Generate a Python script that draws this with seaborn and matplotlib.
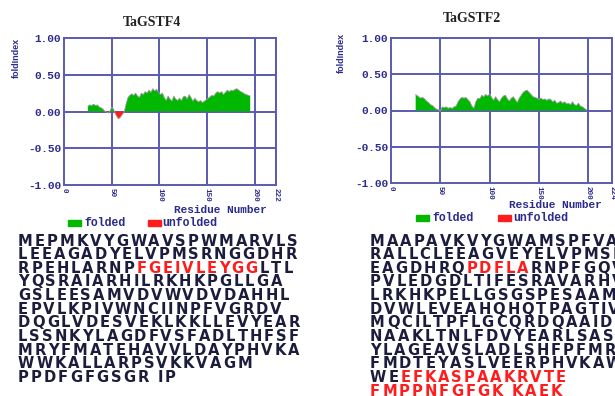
import numpy as np
import matplotlib
matplotlib.use("Agg")
import matplotlib.pyplot as plt
import seaborn as sns

# foldIndex profiles (residue, value)
f4_res = [25, 27, 29, 31, 33, 35, 37, 39, 41, 43, 45, 47, 49, 50, 52, 53, 55, 57, 59, 61, 63,
          65, 67, 69, 71, 73, 75, 77, 79, 81, 83, 85, 87, 89, 91, 93, 95, 97, 99, 101, 103,
          105, 107, 109, 111, 113, 115, 117, 119, 121, 123, 125, 127, 129, 131, 133, 135, 137,
          139, 141, 143, 145, 147, 149, 151, 153, 155, 157, 159, 161, 163, 165, 167, 169, 171,
          173, 175, 177, 179, 181, 183, 185, 187, 189, 191, 193, 195]
f4_val = [0.07, 0.09, 0.08, 0.10, 0.08, 0.09, 0.06, 0.05, 0.03, 0.00, -0.01, -0.02, 0.03, 0.06,
          0.03, -0.01, -0.06, -0.10, -0.08, -0.04, -0.01, 0.10, 0.19, 0.22, 0.24, 0.22, 0.25,
          0.21, 0.19, 0.25, 0.23, 0.27, 0.25, 0.29, 0.26, 0.31, 0.28, 0.30, 0.26, 0.23, 0.25,
          0.19, 0.15, 0.21, 0.17, 0.14, 0.21, 0.17, 0.15, 0.18, 0.15, 0.20, 0.21, 0.17, 0.23,
          0.19, 0.14, 0.18, 0.15, 0.13, 0.15, 0.12, 0.14, 0.16, 0.18, 0.20, 0.22, 0.21, 0.25,
          0.27, 0.25, 0.27, 0.23, 0.26, 0.29, 0.27, 0.29, 0.28, 0.30, 0.31, 0.29, 0.27, 0.26,
          0.24, 0.23, 0.22, 0.21]

f2_res = [25, 26, 28, 30, 32, 34, 36, 38, 40, 42, 44, 46, 48, 50, 51, 52, 54, 56, 58, 60, 62,
          64, 66, 68, 70, 72, 74, 76, 78, 80, 82, 84, 86, 88, 90, 92, 94, 96, 98, 100, 102,
          104, 106, 108, 110, 112, 114, 116, 118, 120, 122, 124, 126, 128, 130, 132, 134, 136,
          138, 140, 142, 144, 146, 148, 150, 152, 154, 156, 158, 160, 162, 164, 166, 168, 170,
          172, 174, 176, 178, 180, 182, 184, 186, 188, 190, 192, 194, 196, 198]
f2_val = [0.22, 0.21, 0.19, 0.17, 0.18, 0.16, 0.13, 0.11, 0.08, 0.07, 0.04, 0.02, 0.01, -0.01,
          0.02, 0.05, 0.04, 0.05, 0.03, 0.04, 0.03, 0.05, 0.06, 0.12, 0.16, 0.18, 0.17, 0.18,
          0.15, 0.12, 0.06, 0.03, 0.12, 0.17, 0.16, 0.21, 0.19, 0.22, 0.20, 0.23, 0.18, 0.14,
          0.19, 0.15, 0.12, 0.17, 0.20, 0.21, 0.16, 0.13, 0.17, 0.19, 0.15, 0.11, 0.17, 0.21,
          0.25, 0.27, 0.28, 0.25, 0.22, 0.19, 0.18, 0.17, 0.15, 0.17, 0.15, 0.16, 0.14, 0.16,
          0.15, 0.12, 0.14, 0.10, 0.11, 0.13, 0.10, 0.12, 0.09, 0.10, 0.08, 0.12, 0.08, 0.07,
          0.10, 0.06, 0.05, 0.03, 0.01]

titles = ["TaGSTF4", "TaGSTF2"]
seq_len = [222, 224]
y_ticks = [1.0, 0.5, 0.0, -0.5, -1.0]

# sequences: each line is a list of (text, highlighted)
seq_f4 = [
    [("MEPMKVYGWAVSPWMARVLS", False)],
    [("LEEAGADYELVPMSRNGGDHR", False)],
    [("RPEHLARNP", False), ("FGEIVLEYGG", True), ("LTL", False)],
    [("YQSRAIARHILRKHKPGLLGA", False)],
    [("GSLEESAMVDVWVDVDAHHL", False)],
    [("EPVLKPIVWNCIINPFVGRDV", False)],
    [("DQGLVDESVEKLKKLLEVYEAR", False)],
    [("LSSNKYLAGDFVSFADLTHFSF", False)],
    [("MRYFMATEHAVVLDAYPHVKA", False)],
    [("WWKALLARPSVKKVAGM", False)],
    [("PPDFGFGSGR IP", False)],
]
seq_f2 = [
    [("MAAPAVKVYGWAMSPFVA", False)],
    [("RALLCLEEAGVEYELVPMSR", False)],
    [("EAGDHRQ", False), ("PDFLA", True), ("RNPFGQV", False)],
    [("PVLEDGDLTIFESRAVARHV", False)],
    [("LRKHKPELLGSGSPESAAMV", False)],
    [("DVWLEVEAHQHQTPAGTIV", False)],
    [("MQCILTPFLGCQRDQAAIDE", False)],
    [("NAAKLTNLFDVYEARLSASK", False)],
    [("YLAGEAVSLADLSHFPFMRY", False)],
    [("FMDTEYASLVEERPHVKAW", False)],
    [("WE", False), ("EFKASPAAKRVTE", True)],
    [("FMPPNFGFGK KAEK", True)],
]

navy = "#2c2c8c"
grid_c = "#5a5ab0"
green = "#00b800"
red = "#ff1c1c"
W, H = 615, 396

sns.set_style("white")
fig = plt.figure(figsize=(6.15, 3.96), dpi=100)
mono = "Liberation Mono"


def px(x, y):
    return x / W, 1 - y / H


panels = [
    dict(rect=(64, 38, 276, 185), res=f4_res, val=f4_val, title_xy=(152, 22), ylab_xy=(16, 58),
         rn_xy=(267, 210), leg_y=223, leg=[68, 84, 148, 162]),
    dict(rect=(391, 38, 612, 183), res=f2_res, val=f2_val, title_xy=(472, 19), ylab_xy=(341, 53),
         rn_xy=(602, 205), leg_y=218, leg=[416, 432, 498, 513]),
]

for i, p in enumerate(panels):
    x0, y0, x1, y1 = p["rect"]
    ax = fig.add_axes([x0 / W, 1 - y1 / H, (x1 - x0) / W, (y1 - y0) / H])
    res = np.array(p["res"])
    val = np.array(p["val"])
    ax.fill_between(res, 0, val, where=val >= 0, interpolate=True, color=green, lw=0, zorder=2)
    ax.fill_between(res, 0, val, where=val <= 0, interpolate=True, color=red, lw=0, zorder=2)
    sns.lineplot(x=res, y=val, ax=ax, color="#9a9a9a", lw=0.6, zorder=3)
    ax.set_xlim(0, seq_len[i])
    ax.set_ylim(-1, 1)
    xt = [0, 50, 100, 150, 200, seq_len[i]]
    ax.set_xticks(xt)
    ax.set_xticklabels([str(v) for v in xt], rotation=270, fontfamily=mono,
                       fontweight="bold", fontsize=5.5, color=navy)
    ax.set_yticks(y_ticks)
    ax.set_yticklabels(["%.2f" % v for v in y_ticks], fontfamily=mono,
                       fontweight="bold", fontsize=8, color=navy)
    ax.tick_params(length=0, pad=2)
    for v in xt[1:]:
        ax.axvline(v, color=grid_c, lw=1.4, zorder=1)
    for v in [0.5, 0.0, -0.5]:
        ax.axhline(v, color=grid_c, lw=1.4, zorder=1)
    for s in ax.spines.values():
        s.set_color(grid_c)
        s.set_linewidth(1.4)
    ax.set_xlabel("")
    ax.set_ylabel("")

    tx, ty = px(*p["title_xy"])
    fig.text(tx, ty, titles[i], ha="center", va="center", fontfamily="Liberation Serif",
             fontweight="bold", fontsize=10, color="#222222")
    lx, ly = px(*p["ylab_xy"])
    fig.text(lx, ly, "foldIndex", rotation=90, ha="center", va="center",
             fontfamily="Liberation Sans", fontweight="bold", fontsize=6.5, color=navy)
    rx, ry = px(*p["rn_xy"])
    fig.text(rx, ry, "Residue Number", ha="right", va="center", fontfamily=mono,
             fontweight="bold", fontsize=8, color=navy)
    gx, tgx, rdx, trx = p["leg"]
    ly = p["leg_y"]
    for bx, c in [(gx, green), (rdx, red)]:
        fig.patches.append(plt.Rectangle(((bx) / W, 1 - (ly + 3) / H), 13 / W, 6 / H,
                                         transform=fig.transFigure, color=c))
    for tx_, lab in [(tgx, "folded"), (trx, "unfolded")]:
        fig.text(tx_ / W, 1 - ly / H, lab, ha="left", va="center", fontfamily=mono,
                 fontweight="bold", fontsize=8.3, color=navy)

# protein sequences below the plots, letter-spaced like the original
renderer = fig.canvas.get_renderer()
gap = 2.0
for seq, x_start in [(seq_f4, 18), (seq_f2, 370)]:
    for j, line in enumerate(seq):
        y = 241 + j * 13.65
        x = x_start
        for txt, hi in line:
            for ch in txt:
                if ch == " ":
                    x += 7
                    continue
                t = fig.text(x / W, 1 - y / H, ch, ha="left", va="center",
                             fontfamily="DejaVu Sans", fontweight="bold", fontsize=10.6,
                             color=red if hi else "#1c1c3c")
                x = t.get_window_extent(renderer).x1 + gap

fig.savefig("out.png", dpi=100)
